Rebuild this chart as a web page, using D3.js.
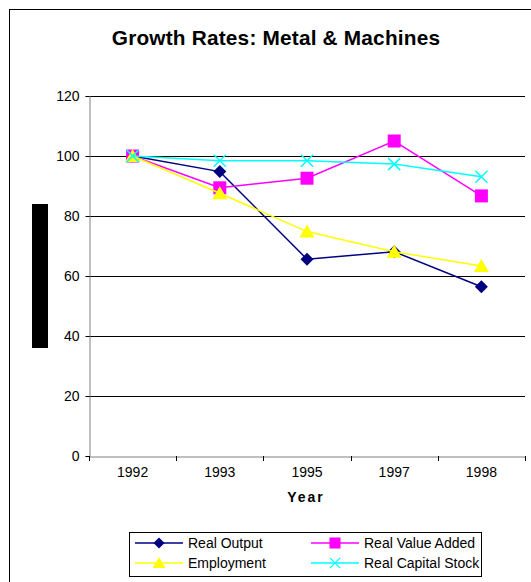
<!DOCTYPE html>
<html><head><meta charset="utf-8">
<script src="https://cdn.jsdelivr.net/npm/d3@7"></script>
<style>body{margin:0;background:#fff}svg{display:block;font-family:"Liberation Sans",Arial,sans-serif}</style>
</head><body><svg id="c" width="531" height="582"></svg>
<script>
const years = ["1992","1993","1995","1997","1998"];
const realOutput = [100, 94.8, 65.6, 68.1, 56.4];
const realValueAdded = [100, 89.4, 92.6, 105, 86.7];
const employment = [100, 87.6, 74.8, 68.1, 63.3];
const realCapitalStock = [100, 98.4, 98.4, 97.3, 93.1];
const yTicks = [0, 20, 40, 60, 80, 100, 120];
const seriesNames = ["Real Output", "Real Value Added", "Employment", "Real Capital Stock"];

const series = [
  {name: seriesNames[0], values: realOutput, color: "#000080", marker: "diamond"},
  {name: seriesNames[1], values: realValueAdded, color: "#FF00FF", marker: "square"},
  {name: seriesNames[2], values: employment, color: "#FFFF00", marker: "triangle"},
  {name: seriesNames[3], values: realCapitalStock, color: "#00FFFF", marker: "x"}
];

const svg = d3.select("#c");
svg.append("rect").attr("x", 9.5).attr("y", 9.5).attr("width", 600).attr("height", 700)
  .attr("fill", "#fff").attr("stroke", "#000").attr("stroke-width", 1);

const L = 89, R = 525, T = 96, B = 456;
const x = d3.scaleBand().domain(years).range([L, R]);
const y = d3.scaleLinear().domain([0, 120]).range([B, T]);

svg.append("text").attr("x", 276).attr("y", 45).attr("text-anchor", "middle")
  .attr("font-size", 20.8).attr("font-weight", "bold").attr("letter-spacing", 0.2).text("Growth Rates: Metal & Machines");

// gridlines
svg.append("g").selectAll("line").data(yTicks.filter(d => d > 0)).join("line")
  .attr("x1", L).attr("x2", R).attr("y1", d => Math.round(y(d)) + 0.5).attr("y2", d => Math.round(y(d)) + 0.5)
  .attr("stroke", "#000").attr("stroke-width", 1);

// y axis
const ya = svg.append("g").attr("transform", `translate(${L + 0.5},0)`)
  .call(d3.axisLeft(y).tickValues(yTicks).tickSize(4).tickPadding(6));
ya.select(".domain").attr("stroke", "#808080");
ya.selectAll(".tick line").attr("stroke", "#000");
ya.selectAll("text").attr("font-size", 14).attr("font-family", "Liberation Sans, Arial, sans-serif").attr("fill", "#000");

// x axis
const xa = svg.append("g").attr("transform", `translate(0,${B + 0.5})`)
  .call(d3.axisBottom(x).tickSize(0).tickPadding(11));
xa.select(".domain").attr("stroke", "#808080");
xa.selectAll("text").attr("font-size", 14).attr("font-family", "Liberation Sans, Arial, sans-serif").attr("fill", "#000");
const bounds = years.map(d => x(d)).concat([R]);
svg.append("g").selectAll("line").data(bounds).join("line")
  .attr("x1", d => Math.round(d) + 0.5).attr("x2", d => Math.round(d) + 0.5)
  .attr("y1", B).attr("y2", B + 5).attr("stroke", "#000");

svg.append("text").attr("x", 306).attr("y", 502).attr("text-anchor", "middle")
  .attr("font-size", 14).attr("font-weight", "bold").attr("letter-spacing", 2).text("Year");

// redacted y label block
svg.append("rect").attr("x", 32).attr("y", 204).attr("width", 16).attr("height", 144).attr("fill", "#000");

function drawMarker(g, type, color) {
  if (type === "diamond") {
    g.append("path").attr("d", "M0,-6.5L6.5,0L0,6.5L-6.5,0Z").attr("fill", color);
  } else if (type === "square") {
    g.append("rect").attr("x", -6.5).attr("y", -6.5).attr("width", 13).attr("height", 13).attr("fill", color);
  } else if (type === "triangle") {
    g.append("path").attr("d", "M0,-7L7.5,6L-7.5,6Z").attr("fill", color);
  } else {
    g.append("path").attr("d", "M-6,-6L6,6M-6,6L6,-6").attr("stroke", color).attr("stroke-width", 1.5).attr("fill", "none");
  }
}

const cx = d => x(d) + x.bandwidth() / 2;
const line = d3.line().x(d => cx(d.year)).y(d => y(d.v));
series.forEach(s => {
  const pts = years.map((yr, i) => ({year: yr, v: s.values[i]}));
  svg.append("path").datum(pts).attr("d", line).attr("fill", "none")
    .attr("stroke", s.color).attr("stroke-width", 1.5);
  pts.forEach(p => {
    const g = svg.append("g").attr("transform", `translate(${cx(p.year)},${y(p.v)})`);
    drawMarker(g, s.marker, s.color);
  });
});

// legend
svg.append("rect").attr("x", 129.5).attr("y", 532.5).attr("width", 352).attr("height", 44)
  .attr("fill", "#fff").attr("stroke", "#000");
const legendPos = [[135, 543], [311, 543], [135, 563], [311, 563]];
series.forEach((s, i) => {
  const [lx, ly] = legendPos[i];
  const g = svg.append("g").attr("transform", `translate(${lx},${ly})`);
  g.append("line").attr("x1", 0).attr("x2", 48).attr("y1", 0).attr("y2", 0).attr("stroke", s.color).attr("stroke-width", 1.5);
  const mg = g.append("g").attr("transform", "translate(24,0) scale(0.85)");
  drawMarker(mg, s.marker, s.color);
  g.append("text").attr("x", 53).attr("y", 5).attr("font-size", 14).text(s.name);
});
</script></body></html>
